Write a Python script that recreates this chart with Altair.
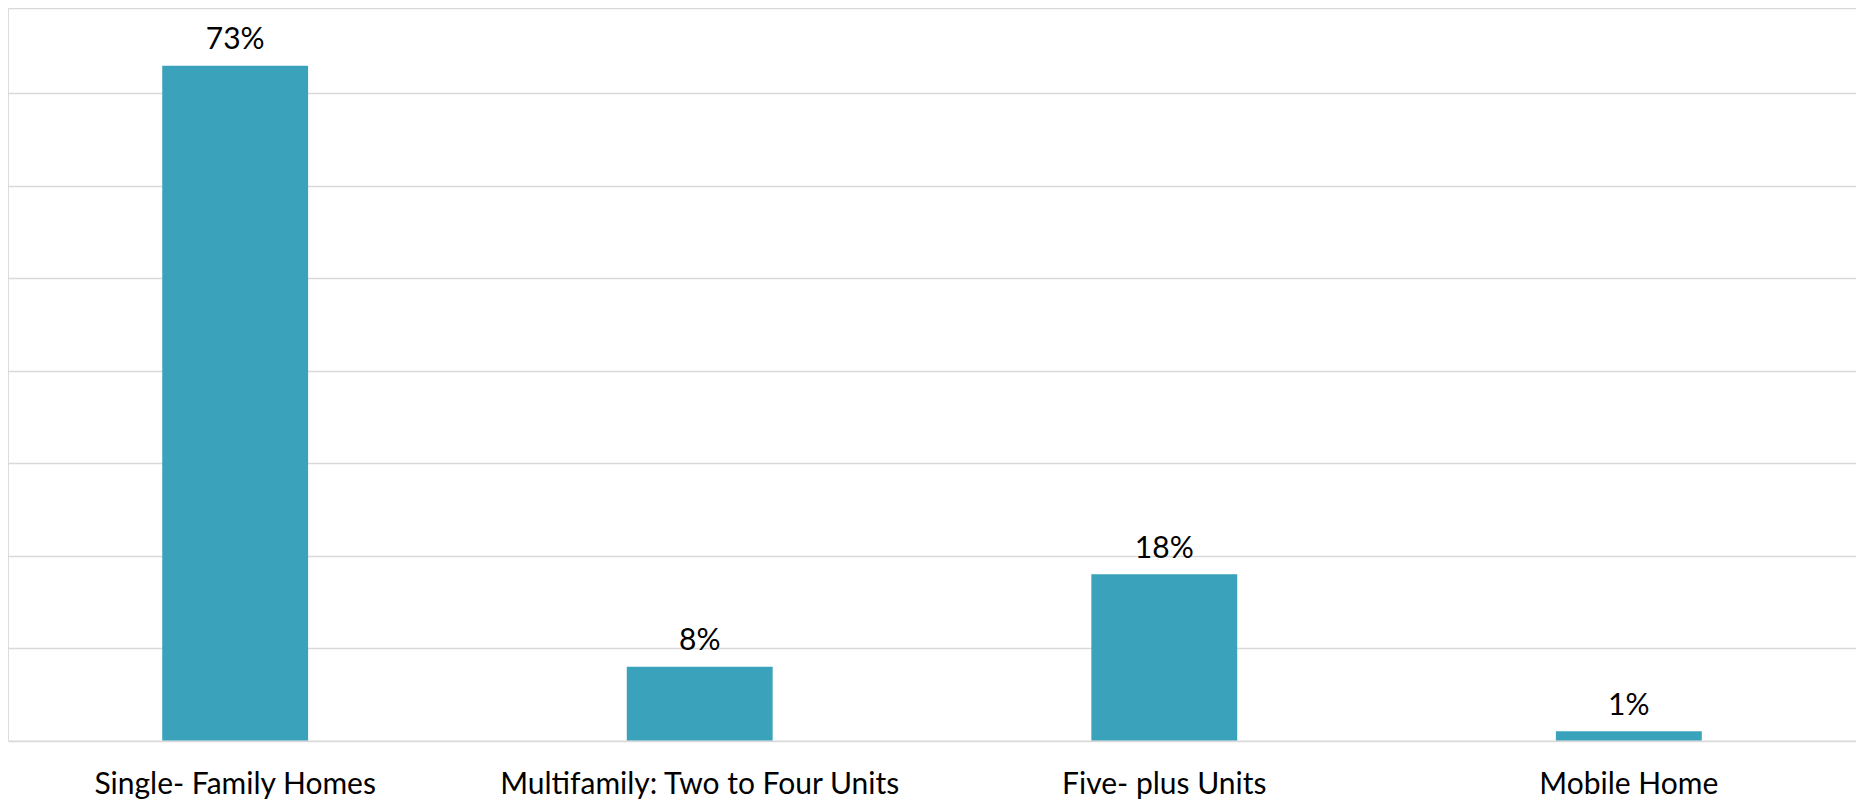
import altair as alt
import pandas as pd

categories = ["Single- Family Homes", "Multifamily: Two to Four Units", "Five- plus Units", "Mobile Home"]
values = [73, 8, 18, 1]
labels = ["73%", "8%", "18%", "1%"]
grid_values = [0, 10, 20, 30, 40, 50, 60, 70, 79.2]

df = pd.DataFrame({"category": categories, "value": values, "label": labels})

FONT = "Lato"
BAR_COLOR = "#3AA3BB"

x = alt.X(
    "category:N",
    sort=categories,
    title=None,
    scale=alt.Scale(paddingInner=0.686, paddingOuter=0.332),
    axis=alt.Axis(
        labelAngle=0,
        labelFont=FONT,
        labelFontSize=30,
        labelColor="#000000",
        labelBaseline="alphabetic",
        labelPadding=52.4,
        labelLimit=0,
        ticks=False,
        tickSize=0,
        domain=False,
        grid=False,
    ),
)

y = alt.Y(
    "value:Q",
    title=None,
    scale=alt.Scale(domain=[0, 79.24], nice=False, zero=True),
    axis=alt.Axis(
        values=grid_values,
        labels=False,
        ticks=False,
        domain=False,
        grid=True,
        gridColor="#D9D9D9",
        gridWidth=1.3,
    ),
)

bars = alt.Chart(df).mark_bar(color=BAR_COLOR).encode(x=x, y=y)

text = alt.Chart(df).mark_text(
    font=FONT,
    fontSize=30,
    color="#000000",
    baseline="alphabetic",
    align="center",
    dy=-16.5,
).encode(x=alt.X("category:N", sort=categories), y=alt.Y("value:Q"), text="label:N")

chart = (
    alt.layer(bars, text)
    .properties(
        width=1848,
        height=732.6,
        autosize=alt.AutoSizeParams(type="none"),
        padding={"left": 0, "top": 0, "right": 0, "bottom": 59.4},
    )
    .configure_view(stroke=None)
    .configure(background="white")
)

chart.save("out.html", embed_options={"renderer": "svg", "actions": False})
